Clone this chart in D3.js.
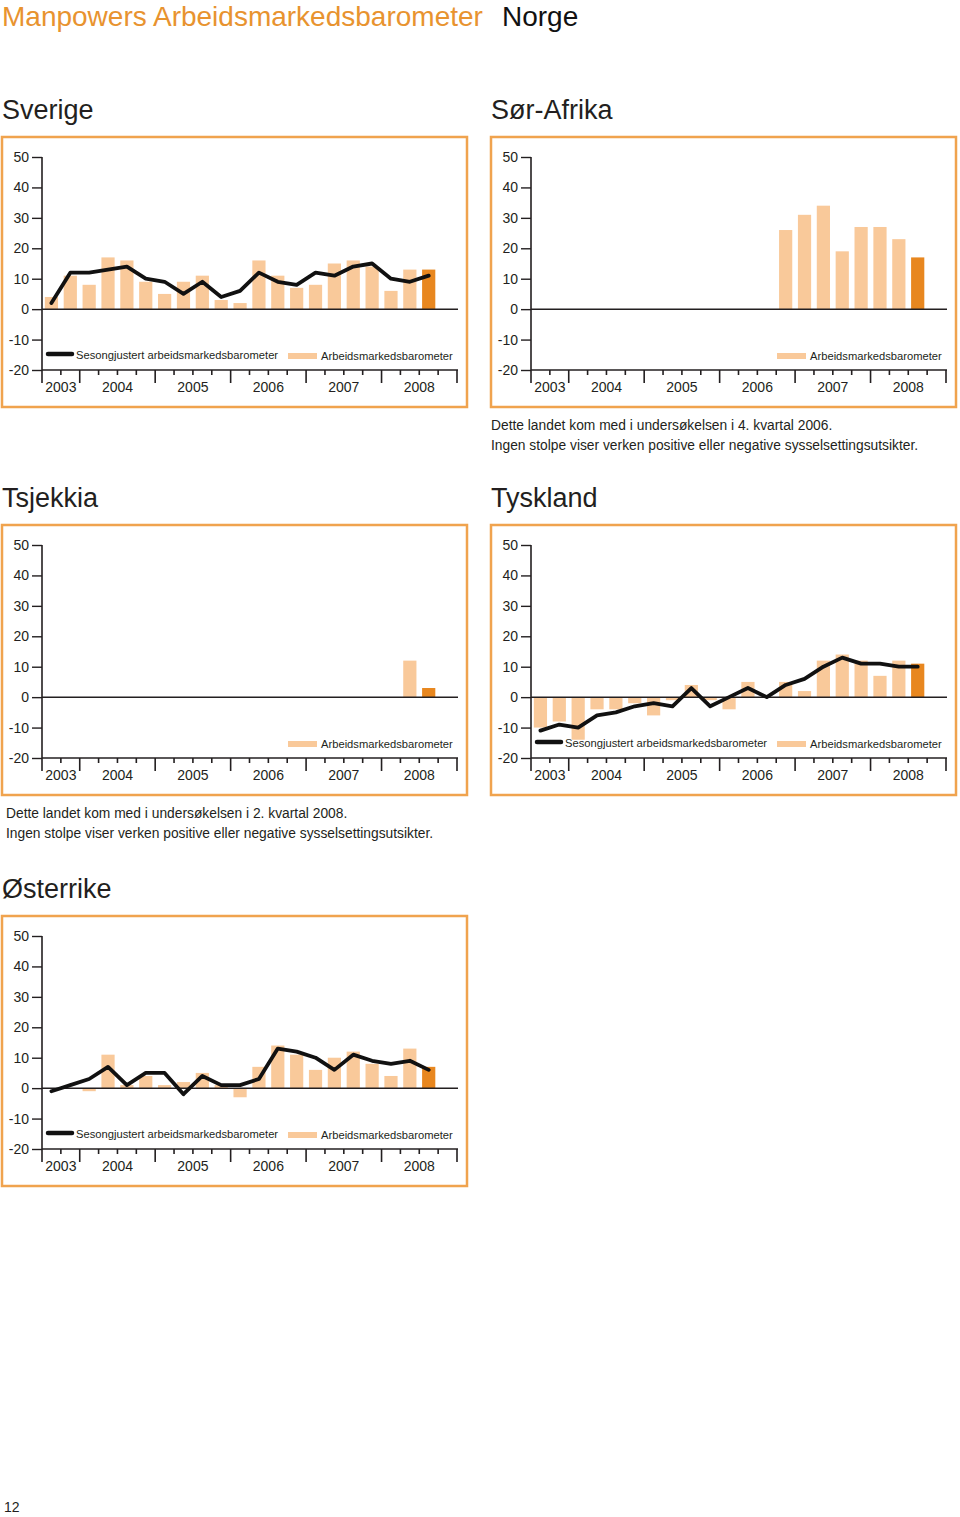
<!DOCTYPE html>
<html>
<head>
<meta charset="utf-8">
<script src="https://cdn.jsdelivr.net/npm/d3@7"></script>
<style>
  html, body { margin: 0; padding: 0; background: #fff; }
  svg { display: block; font-family: "Liberation Sans", Arial, Helvetica, sans-serif; }
</style>
</head>
<body>
<svg id="chart" width="960" height="1517"></svg>
<script>
// ---------- DATA ----------
const quarters = [
  "2003K3","2003K4",
  "2004K1","2004K2","2004K3","2004K4",
  "2005K1","2005K2","2005K3","2005K4",
  "2006K1","2006K2","2006K3","2006K4",
  "2007K1","2007K2","2007K3","2007K4",
  "2008K1","2008K2","2008K3","2008K4"
];
const years = ["2003","2004","2005","2006","2007","2008"];
const yTicks = [-20, -10, 0, 10, 20, 30, 40, 50];

// values per quarter from 2003K3 to 2008K3 (21 quarters); null = not in survey
const sverigeBars  = [4, 11, 8, 17, 16, 9, 5, 9, 11, 3, 2, 16, 11, 7, 8, 15, 16, 14, 6, 13, 13];
const sverigeLine  = [2, 12, 12, 13, 14, 10, 9, 5, 9, 4, 6, 12, 9, 8, 12, 11, 14, 15, 10, 9, 11];

const sorAfrikaBars = [null, null, null, null, null, null, null, null, null, null, null, null, null,
                       26, 31, 34, 19, 27, 27, 23, 17];

const tsjekkiaBars = [null, null, null, null, null, null, null, null, null, null,
                      null, null, null, null, null, null, null, null, null, 12, 3];

const tysklandBars = [-10, -8, -14, -4, -4, -2, -6, -1, 4, -1, -4, 5, 0, 5, 2, 12, 14, 12, 7, 12, 11];
const tysklandLine = [-11, -9, -10, -6, -5, -3, -2, -3, 3, -3, 0, 3, 0, 4, 6, 10, 13, 11, 11, 10, 10];

const osterrikeBars = [0, 0, -1, 11, 1, 4, 1, 2, 5, 1, -3, 7, 14, 11, 6, 10, 12, 8, 4, 13, 7];
const osterrikeLine = [-1, 1, 3, 7, 1, 5, 5, -2, 4, 1, 1, 3, 13, 12, 10, 6, 11, 9, 8, 9, 6];

const mainTitle = "Manpowers Arbeidsmarkedsbarometer";
const mainTitle2 = "Norge";
const legendLineLabel = "Sesongjustert arbeidsmarkedsbarometer";
const legendBarLabel = "Arbeidsmarkedsbarometer";
const noteSorAfrika = ["Dette landet kom med i undersøkelsen i 4. kvartal 2006.",
                       "Ingen stolpe viser verken positive eller negative sysselsettingsutsikter."];
const noteTsjekkia = ["Dette landet kom med i undersøkelsen i 2. kvartal 2008.",
                      "Ingen stolpe viser verken positive eller negative sysselsettingsutsikter."];
const pageNumber = "12";

// ---------- STYLE ----------
const C = {
  text: "#231f20",
  orangeTitle: "#e8932f",
  border: "#f0a34e",
  barLight: "#f9c99a",
  barDark: "#e8871f",
  line: "#111111"
};

const svg = d3.select("#chart");
svg.append("rect").attr("width", 960).attr("height", 1517).attr("fill", "#fff");

// Main title
svg.append("text").attr("x", 2).attr("y", 26).attr("font-size", 28)
  .attr("fill", C.orangeTitle).text(mainTitle);
svg.append("text").attr("x", 502).attr("y", 26).attr("font-size", 28).attr("fill", "#111").text(mainTitle2);

function drawPanel(cfg) {
  const left = cfg.left, top = cfg.top;
  const W = 465, H = 270;

  // panel title
  svg.append("text").attr("x", left).attr("y", top - 18)
    .attr("font-size", 27).attr("fill", C.text).text(cfg.title);

  // box
  svg.append("rect").attr("x", left).attr("y", top).attr("width", W).attr("height", H)
    .attr("fill", "none").attr("stroke", C.border).attr("stroke-width", 2.5);

  const g = svg.append("g");
  const x0 = left + 40, x1 = left + 455;
  const y = d3.scaleLinear().domain([-20, 50]).range([top + 233, top + 20]);
  const xb = d3.scaleBand().domain(quarters).range([x0, x1]).paddingInner(0.3).paddingOuter(0.15);
  const xq = d3.scaleLinear().domain([0, quarters.length]).range([x0, x1]);

  // y axis
  const ya = d3.axisLeft(y).tickValues(yTicks).tickSize(10).tickSizeOuter(0).tickPadding(3)
    .tickFormat(d => String(d));
  const yg = g.append("g").attr("transform", `translate(${x0},0)`).call(ya);
  yg.select(".domain").remove();
  yg.selectAll(".tick line").attr("stroke", C.text).attr("stroke-width", 1.4);
  yg.selectAll(".tick text").attr("font-size", 14).attr("fill", C.text)
    .attr("font-family", "Liberation Sans, Arial, sans-serif");

  // bars
  const barData = cfg.bars.map((v, i) => ({ q: quarters[i], v, i }))
    .filter(d => d.v !== null);
  const lastIdx = cfg.bars.length - 1;
  g.selectAll("rect.bar").data(barData).enter().append("rect")
    .attr("class", "bar")
    .attr("x", d => xb(d.q))
    .attr("width", xb.bandwidth())
    .attr("y", d => y(Math.max(0, d.v)))
    .attr("height", d => Math.abs(y(d.v) - y(0)))
    .attr("fill", d => d.i === lastIdx ? C.barDark : C.barLight);

  // zero line
  g.append("line").attr("x1", x0).attr("x2", x1 + 1).attr("y1", y(0)).attr("y2", y(0))
    .attr("stroke", C.text).attr("stroke-width", 1.5);

  // seasonal line
  if (cfg.line) {
    const ld = cfg.line.map((v, i) => ({ q: quarters[i], v }));
    const lineGen = d3.line()
      .defined(d => d.v !== null)
      .x(d => xb(d.q) + xb.bandwidth() / 2)
      .y(d => y(d.v));
    g.append("path").datum(ld).attr("d", lineGen)
      .attr("fill", "none").attr("stroke", C.line).attr("stroke-width", 3.8)
      .attr("stroke-linejoin", "round").attr("stroke-linecap", "round");
  }

  // x axis baseline
  const yb = y(-20);
  g.append("line").attr("x1", x0).attr("x2", x1 + 1).attr("y1", yb).attr("y2", yb)
    .attr("stroke", C.text).attr("stroke-width", 1.6);
  // y axis vertical line (extends down to major tick length)
  g.append("line").attr("x1", x0).attr("x2", x0).attr("y1", y(50)).attr("y2", yb + 13)
    .attr("stroke", C.text).attr("stroke-width", 1.6);

  // year boundaries in quarter index
  const yearStart = { "2003": 0, "2004": 2, "2005": 6, "2006": 10, "2007": 14, "2008": 18 };
  const majors = new Set([0, 2, 6, 10, 14, 18, 22]);
  const tickIdx = d3.range(1, quarters.length + 1);
  g.selectAll("line.xt").data(tickIdx).enter().append("line")
    .attr("x1", d => xq(d)).attr("x2", d => xq(d))
    .attr("y1", yb).attr("y2", d => yb + (majors.has(d) ? 13 : 5))
    .attr("stroke", C.text).attr("stroke-width", 1.6);

  g.selectAll("text.yl").data(years).enter().append("text")
    .attr("x", d => {
      const s = yearStart[d];
      const e = d === "2008" ? 22 : yearStart[String(+d + 1)];
      return (xq(s) + xq(e)) / 2;
    })
    .attr("y", top + 255)
    .attr("text-anchor", "middle").attr("font-size", 14).attr("fill", C.text)
    .text(d => d);

  // legend
  const ly = top + 217;
  if (cfg.line) {
    g.append("line").attr("x1", left + 46).attr("x2", left + 70).attr("y1", ly).attr("y2", ly)
      .attr("stroke", C.line).attr("stroke-width", 4.5).attr("stroke-linecap", "round");
    g.append("text").attr("x", left + 74).attr("y", ly + 4.5)
      .attr("font-size", 11.2).attr("fill", C.text).text(legendLineLabel);
  }
  g.append("rect").attr("x", left + 286).attr("y", ly - 1).attr("width", 29).attr("height", 6)
    .attr("fill", C.barLight);
  g.append("text").attr("x", left + 319).attr("y", ly + 5.5)
    .attr("font-size", 11.2).attr("fill", C.text).text(legendBarLabel);

  // notes
  if (cfg.note) {
    cfg.note.forEach((s, i) => {
      svg.append("text").attr("x", cfg.noteX).attr("y", top + H + 23 + i * 20)
        .attr("font-size", 13.8).attr("fill", C.text).text(s);
    });
  }
}

drawPanel({ title: "Sverige", left: 2, top: 137, bars: sverigeBars, line: sverigeLine });
drawPanel({ title: "Sør-Afrika", left: 491, top: 137, bars: sorAfrikaBars, line: null,
            note: noteSorAfrika, noteX: 491 });
drawPanel({ title: "Tsjekkia", left: 2, top: 525, bars: tsjekkiaBars, line: null,
            note: noteTsjekkia, noteX: 6 });
drawPanel({ title: "Tyskland", left: 491, top: 525, bars: tysklandBars, line: tysklandLine });
drawPanel({ title: "Østerrike", left: 2, top: 916, bars: osterrikeBars, line: osterrikeLine });

svg.append("text").attr("x", 4).attr("y", 1512).attr("font-size", 14).attr("fill", C.text).text(pageNumber);
</script>
</body>
</html>
